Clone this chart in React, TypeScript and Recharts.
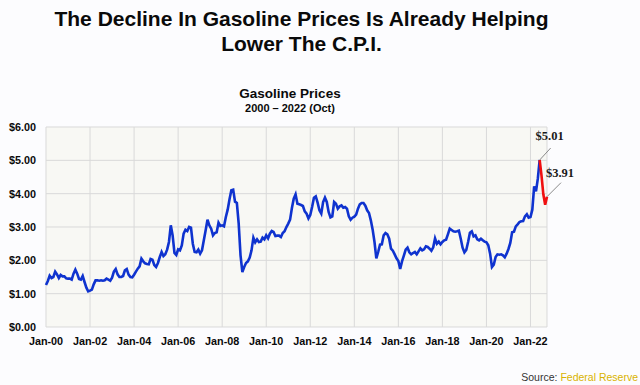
import { LineChart, Line, XAxis, YAxis, CartesianGrid } from 'recharts'

// monthly average regular gasoline price, Jan 2000 - Oct 2022
const gasPrices = [
  1.26, 1.38, 1.54, 1.47, 1.5, 1.66, 1.58, 1.47, 1.56, 1.52, 1.52, 1.46, // 2000
  1.45, 1.45, 1.42, 1.6, 1.72, 1.6, 1.44, 1.42, 1.53, 1.35, 1.18, 1.07, // 2001
  1.09, 1.12, 1.28, 1.4, 1.4, 1.39, 1.4, 1.39, 1.4, 1.45, 1.42, 1.39, // 2002
  1.48, 1.66, 1.74, 1.58, 1.5, 1.5, 1.53, 1.7, 1.74, 1.57, 1.5, 1.49, // 2003
  1.57, 1.66, 1.75, 1.82, 2.05, 1.97, 1.91, 1.89, 1.88, 2.04, 2.02, 1.86, // 2004
  1.8, 1.92, 2.1, 2.25, 2.13, 2.18, 2.32, 2.55, 3.05, 2.75, 2.22, 2.16, // 2005
  2.33, 2.3, 2.45, 2.8, 2.92, 2.88, 3.0, 2.98, 2.5, 2.25, 2.24, 2.32, // 2006
  2.2, 2.3, 2.6, 2.9, 3.22, 3.05, 2.95, 2.75, 2.82, 2.84, 3.13, 3.03, // 2007
  3.05, 3.02, 3.3, 3.52, 3.83, 4.1, 4.12, 3.76, 3.72, 3.1, 2.15, 1.65, // 2008
  1.8, 1.92, 1.97, 2.08, 2.3, 2.68, 2.54, 2.63, 2.55, 2.56, 2.68, 2.63, // 2009
  2.75, 2.66, 2.8, 2.88, 2.85, 2.73, 2.74, 2.74, 2.7, 2.82, 2.87, 3.0, // 2010
  3.1, 3.22, 3.57, 3.85, 3.98, 3.7, 3.68, 3.66, 3.63, 3.47, 3.4, 3.26, // 2011
  3.36, 3.6, 3.88, 3.92, 3.73, 3.5, 3.4, 3.75, 3.88, 3.75, 3.45, 3.29, // 2012
  3.32, 3.75, 3.7, 3.55, 3.62, 3.65, 3.58, 3.6, 3.55, 3.32, 3.22, 3.28, // 2013
  3.31, 3.37, 3.55, 3.68, 3.72, 3.72, 3.64, 3.5, 3.42, 3.2, 2.92, 2.55, // 2014
  2.06, 2.25, 2.47, 2.48, 2.75, 2.82, 2.78, 2.65, 2.35, 2.29, 2.18, 2.06, // 2015
  1.98, 1.74, 1.97, 2.14, 2.32, 2.38, 2.24, 2.18, 2.22, 2.25, 2.18, 2.27, // 2016
  2.36, 2.3, 2.33, 2.42, 2.4, 2.35, 2.29, 2.39, 2.66, 2.5, 2.56, 2.48, // 2017
  2.55, 2.6, 2.62, 2.78, 2.95, 2.91, 2.87, 2.86, 2.87, 2.89, 2.65, 2.38, // 2018
  2.24, 2.31, 2.55, 2.83, 2.87, 2.72, 2.75, 2.63, 2.6, 2.65, 2.6, 2.56, // 2019
  2.54, 2.45, 2.2, 1.8, 1.87, 2.1, 2.18, 2.17, 2.18, 2.15, 2.09, 2.2, // 2020
  2.34, 2.52, 2.84, 2.86, 3.02, 3.08, 3.15, 3.17, 3.18, 3.32, 3.38, 3.28, // 2021
  3.3, 3.52, 4.22, 4.07, 4.45, 5.01, 4.55, 3.98, 3.67, 3.91, // 2022 (Oct)
]

const tickLabels = ['Jan-00', 'Jan-02', 'Jan-04', 'Jan-06', 'Jan-08', 'Jan-10', 'Jan-12', 'Jan-14', 'Jan-16', 'Jan-18', 'Jan-20', 'Jan-22']
const yTicks = [0, 1, 2, 3, 4, 5, 6]

const tickMonths = tickLabels.map((_, i) => i * 24)
const lastIndex = gasPrices.length - 1
const peakIndex = gasPrices.indexOf(Math.max(...gasPrices))

const data = gasPrices.map((p, i) => ({
  m: i,
  blue: i <= peakIndex ? p : null,
  red: i >= peakIndex ? p : null,
}))

const tickStyle = { fontFamily: 'Liberation Sans, Arial, sans-serif', fontWeight: 700, fontSize: 10.8, fill: '#0a0a0a' }

// leader line + price callout for the peak and the latest value
function renderNote(props: any) {
  const { x, y, index, value } = props
  if (value == null || (index !== peakIndex && index !== lastIndex)) return null
  const dx = index === peakIndex ? 11 : 14
  const dy = index === peakIndex ? -12 : -14
  const tx = index === peakIndex ? 10 : 13
  return (
    <g key={`note-${index}`}>
      <line x1={x} y1={y} x2={x + dx} y2={y + dy} stroke="#8a8a8a" strokeWidth={1} />
      <text
        x={x + tx}
        y={y - 20}
        textAnchor="middle"
        fontFamily="Liberation Serif, serif"
        fontWeight={700}
        fontSize={12.5}
        fill="#1a1a1a"
      >
        {`$${Number(value).toFixed(2)}`}
      </text>
    </g>
  )
}

export default function App() {
  return (
    <div style={{ position: 'absolute', left: 0, top: 0, width: 640, height: 385, background: '#fcfcfe' }}>
      <LineChart width={640} height={385} data={data} margin={{ top: 127, right: 93, bottom: 28, left: 0 }}>
        <CartesianGrid stroke="#d9d9d9" fill="#f8f8f4" horizontal vertical />
        <XAxis
          dataKey="m"
          type="number"
          domain={[0, lastIndex]}
          ticks={tickMonths}
          tickFormatter={(v: number) => tickLabels[v / 24]}
          axisLine={false}
          tickLine={false}
          tickSize={0}
          tickMargin={10}
          height={30}
          tick={tickStyle}
          interval={0}
        />
        <YAxis
          domain={[0, 6]}
          ticks={yTicks}
          tickFormatter={(v: number) => `$${v.toFixed(2)}`}
          axisLine={false}
          tickLine={false}
          tickSize={0}
          tickMargin={10}
          width={46}
          tick={tickStyle}
        />
        <Line type="linear" dataKey="blue" stroke="#0f33cf" strokeWidth={2.6} dot={false} isAnimationActive={false} />
        <Line
          type="linear"
          dataKey="red"
          stroke="#f01010"
          strokeWidth={2.6}
          dot={false}
          isAnimationActive={false}
          label={renderNote}
        />
      </LineChart>

      <svg width={640} height={385} style={{ position: 'absolute', left: 0, top: 0, pointerEvents: 'none' }}>
        <g fontFamily="Liberation Sans, Arial, sans-serif" fontWeight={700} textAnchor="middle" fill="#0a0a0a">
          <text x={301.5} y={26} fontSize={21}>The Decline In Gasoline Prices Is Already Helping</text>
          <text x={301.5} y={51} fontSize={21}>Lower The C.P.I.</text>
          <text x={290} y={98} fontSize={13.5}>Gasoline Prices</text>
          <text x={290} y={112} fontSize={11}>2000 – 2022 (Oct)</text>
        </g>
        <text x={638} y={381} textAnchor="end" fontFamily="Liberation Sans Narrow, Liberation Sans, Arial, sans-serif" fontSize={10.5}>
          <tspan fill="#333">Source: </tspan>
          <tspan fill="#d9b300">Federal Reserve</tspan>
        </text>
      </svg>
    </div>
  )
}
